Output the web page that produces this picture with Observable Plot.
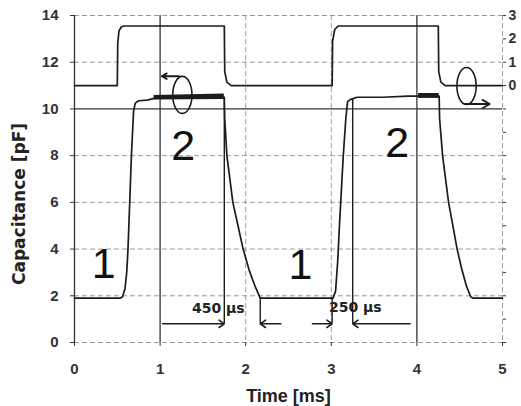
<!DOCTYPE html>
<html><head><meta charset="utf-8">
<script src="https://cdn.jsdelivr.net/npm/d3@7"></script>
<script src="https://cdn.jsdelivr.net/npm/@observablehq/plot@0.6"></script>
<style>
html,body{margin:0;padding:0;background:#fff;overflow:hidden;}
</style></head><body><div id="chart"></div>
<script>
// Capacitance trace (pF) vs time (ms)
const timeCap = [0, 0.53, 0.56, 0.59, 0.61, 0.625, 0.645, 0.665, 0.69, 0.71, 0.75, 0.85, 0.93, 1.2, 1.5, 1.75, 1.755, 1.78, 1.85, 1.91, 1.97, 2.04, 2.11, 2.17, 2.2, 3.02, 3.05, 3.075, 3.095, 3.11, 3.14, 3.17, 3.19, 3.22, 3.3, 3.6, 3.9, 4.26, 4.265, 4.3, 4.37, 4.42, 4.47, 4.52, 4.58, 4.63, 4.66, 5];
const capValues = [1.9, 1.9, 1.95, 2.3, 3.0, 4.0, 6.0, 8.0, 9.9, 10.25, 10.35, 10.38, 10.45, 10.5, 10.5, 10.5, 9.6, 8.0, 6.0, 5.0, 4.0, 3.1, 2.4, 1.9, 1.9, 1.9, 2.2, 3.5, 5.0, 6.0, 8.0, 9.6, 10.3, 10.4, 10.5, 10.5, 10.55, 10.55, 9.6, 8.0, 6.0, 5.0, 4.0, 3.2, 2.4, 1.95, 1.9, 1.9];
// noisy (thick) parts of the plateaus
const noise1Time = [0.93, 1.75];
const noise1Low = [10.38, 10.4];
const noise1High = [10.58, 10.64];
const noise2Time = [4.02, 4.26];
const noise2Low = [10.45, 10.45];
const noise2High = [10.66, 10.66];
// Drive voltage trace, drawn on the capacitance axis (0 V = 11, right axis)
const timeVolt = [0, 0.5, 0.505, 0.52, 0.55, 0.58, 1.75, 1.755, 1.78, 1.83, 3.01, 3.015, 3.04, 3.08, 4.25, 4.255, 4.28, 4.33, 5];
const voltValues = [11, 11, 12.8, 13.35, 13.52, 13.55, 13.55, 11.6, 11.15, 11.0, 11, 12.9, 13.4, 13.55, 13.55, 11.6, 11.15, 11.0, 11];

const xTicks = [0, 1, 2, 3, 4, 5];
const yTicks = [0, 2, 4, 6, 8, 10, 12, 14];
const rightMinorTicks = [0,1,2,3,4,5,6,7,8,9,10,11,12,13,14];
const rightTicks = [11, 12, 13, 14];
const rightTickLabels = ["0", "1", "2", "3"];
const solidGridX = [0, 1, 4];
const solidGridY = [10];
const dashedGridX = [2, 3, 5];
const dashedGridY = [0, 2, 4, 6, 8, 12, 14];

// region labels
const regionText = ["1", "2", "1", "2"];
const regionX = [0.34, 1.27, 2.64, 3.77];
const regionY = [3.33, 8.4, 3.3, 8.55];

// timing markers
const markerX = [1.75, 2.17, 3.01, 3.25];
const markerTop = [10.5, 1.9, 1.9, 10.45];
const markerBottom = [0.8, 0.8, 0.8, 0.8];
const timingArrowFrom = [1.03, 2.41, 2.78, 3.92];
const timingArrowTo = [1.75, 2.17, 3.01, 3.25];
const timingArrowY = [0.8, 0.8, 0.8, 0.8];
const timingText = ["450 μs", "250 μs"];
const timingTextX = [1.68, 3.28];
const timingTextY = [1.45, 1.5];
const timingTextAnchor = ["end", "start"];

// axis loops (which curve goes with which axis)
const loopX = [1.26, 4.58];
const loopY = [10.6, 10.98];
const loopArrowFrom = [1.22, 4.56];
const loopArrowTo = [1.02, 4.85];
const loopArrowY = [11.4, 10.21];

const capTable = timeCap.map((t, i) => ({t, v: capValues[i]}));
const voltTable = timeVolt.map((t, i) => ({t, v: voltValues[i]}));
const noise1 = noise1Time.map((t, i) => ({t, lo: noise1Low[i], hi: noise1High[i]}));
const noise2 = noise2Time.map((t, i) => ({t, lo: noise2Low[i], hi: noise2High[i]}));
const regions = regionText.map((s, i) => ({s, x: regionX[i], y: regionY[i]}));
const markers = markerX.map((x, i) => ({x, y1: markerBottom[i], y2: markerTop[i]}));
const timingArrows = timingArrowFrom.map((x1, i) => ({x1, x2: timingArrowTo[i], y: timingArrowY[i]}));
const timingLabels = timingText.map((s, i) => ({s, x: timingTextX[i], y: timingTextY[i], a: timingTextAnchor[i]}));
const loops = loopX.map((x, i) => ({x, y: loopY[i]}));
const loopArrows = loopArrowFrom.map((x1, i) => ({x1, x2: loopArrowTo[i], y: loopArrowY[i]}));

const ellipseSymbol = {
  draw(ctx, size) {
    const ry = Math.sqrt(size / Math.PI), rx = ry * 0.52, k = 0.5523;
    ctx.moveTo(rx, 0);
    ctx.bezierCurveTo(rx, k * ry, k * rx, ry, 0, ry);
    ctx.bezierCurveTo(-k * rx, ry, -rx, k * ry, -rx, 0);
    ctx.bezierCurveTo(-rx, -k * ry, -k * rx, -ry, 0, -ry);
    ctx.bezierCurveTo(k * rx, -ry, rx, -k * ry, rx, 0);
    ctx.closePath();
  }
};

const ink = "#1c1c1c";
const chart = Plot.plot({
  width: 521, height: 406,
  marginLeft: 74, marginRight: 19, marginTop: 15, marginBottom: 64,
  x: {domain: [0, 5]},
  y: {domain: [0, 14]},
  style: "font-family: 'Liberation Sans', Arial, sans-serif; font-size: 15px; font-weight: bold; color: #333; background: #fff; overflow: visible;",
  marks: [
    Plot.ruleY(dashedGridY, {stroke: "#9a9a9a", strokeDasharray: "5,3"}),
    Plot.ruleX(dashedGridX, {stroke: "#9a9a9a", strokeDasharray: "5,3"}),
    Plot.ruleY(solidGridY, {stroke: "#333", strokeWidth: 1.3}),
    Plot.ruleX(solidGridX, {stroke: "#333", strokeWidth: 1.3}),
    Plot.axisX(xTicks, {tickSize: 4, tickPadding: 17, label: null, tickFormat: d => String(d)}),
    Plot.axisY(yTicks, {tickSize: 4, tickPadding: 12, label: null, tickFormat: d => String(d)}),
    Plot.axisY(rightMinorTicks, {anchor: "right", tickSize: 3, tickPadding: 0, label: null, tickFormat: () => ""}),
    Plot.axisY(rightTicks, {anchor: "right", tickSize: 0, tickPadding: 6, label: null, fontSize: 14, tickFormat: d => rightTickLabels[rightTicks.indexOf(d)]}),
    // traces
    Plot.line(voltTable, {x: "t", y: "v", stroke: ink, strokeWidth: 1.7}),
    Plot.areaY(noise1, {x: "t", y1: "lo", y2: "hi", fill: ink}),
    Plot.areaY(noise2, {x: "t", y1: "lo", y2: "hi", fill: ink}),
    Plot.line(capTable, {x: "t", y: "v", stroke: ink, strokeWidth: 1.7}),
    // timing markers
    Plot.ruleX(markers, {x: "x", y1: "y1", y2: "y2", stroke: ink, strokeWidth: 1.4}),
    Plot.arrow(timingArrows, {x1: "x1", x2: "x2", y1: "y", y2: "y", stroke: ink, strokeWidth: 1.6, headLength: 6, headAngle: 70}),
    Plot.text(timingLabels, {x: "x", y: "y", text: "s", textAnchor: d => d.a, fontFamily: "DejaVu Sans, sans-serif", fontSize: 14, fontWeight: "bold", fill: "#222"}),
    // loops
    Plot.dot(loops, {x: "x", y: "y", r: 18.5, symbol: ellipseSymbol, stroke: ink, strokeWidth: 1.6, fill: "none"}),
    Plot.arrow(loopArrows, {x1: "x1", x2: "x2", y1: "y", y2: "y", stroke: ink, strokeWidth: 1.8, headLength: 7, headAngle: 60}),
    // region numbers
    Plot.text(regions, {x: "x", y: "y", text: "s", fontSize: 43, fontWeight: "normal", fill: "#111"}),
    // axis titles
    Plot.text(["Time [ms]"], {frameAnchor: "bottom", lineAnchor: "middle", textAnchor: "middle", dy: 54, fontSize: 18, fontWeight: "bold", fill: "#222"}),
    Plot.text(["Capacitance [pF]"], {frameAnchor: "left", textAnchor: "middle", lineAnchor: "middle", dx: -55, dy: 25, rotate: -90, fontFamily: "DejaVu Sans, sans-serif", fontSize: 17, fontWeight: "bold", fill: "#222"})
  ]
});
document.getElementById("chart").appendChild(chart);
</script></body></html>
